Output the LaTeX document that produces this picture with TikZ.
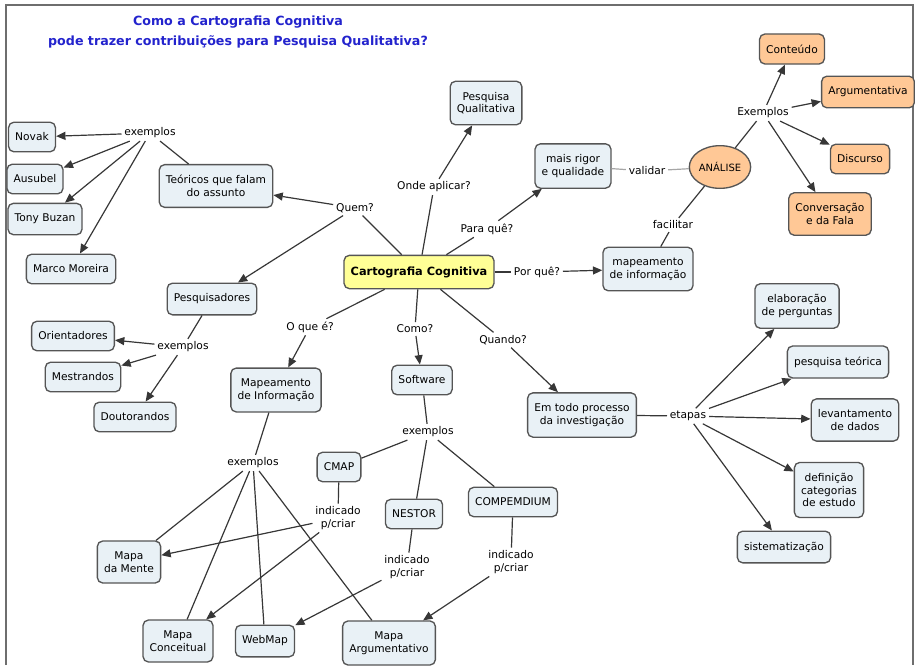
\documentclass[tikz,border=0pt]{standalone}
\usepackage{fontspec}
\setmainfont{DejaVu Sans}
\usetikzlibrary{arrows.meta, shapes.geometric}

\definecolor{boxfill}{RGB}{233,241,246}
\definecolor{boxline}{RGB}{85,85,85}
\definecolor{mainfill}{RGB}{255,255,150}
\definecolor{peach}{RGB}{255,200,150}
\definecolor{titleblue}{RGB}{35,35,205}
\definecolor{linkgray}{RGB}{55,55,55}
\definecolor{framegray}{RGB}{110,110,110}

\begin{document}
\begin{tikzpicture}[x=0.75pt, y=-0.75pt,
    concept/.style={draw=boxline, line width=1pt, rounded corners=4pt, fill=boxfill,
        align=center, inner xsep=5pt, inner ysep=8pt, minimum height=22pt,
        font=\fontsize{8}{9.5}\selectfont},
    orangebox/.style={concept, fill=peach},
    phrase/.style={align=center, inner sep=2pt, font=\fontsize{8}{9.5}\selectfont},
    link/.style={draw=linkgray, line width=0.9pt},
    arr/.style={link, -{Triangle[length=7pt,width=6pt]}}]
    \useasboundingbox (0,0) rectangle (915,665);
    \draw[framegray, line width=1.2pt] (6,665) -- (6,5) -- (913,5) -- (913,665);

    % title
    \node[align=center, text=titleblue, font=\bfseries\fontsize{9.5}{15.5}\selectfont] (title) at (238,32)
        {Como a Cartografia Cognitiva\\pode trazer contribuições para Pesquisa Qualitativa?};

    % central concept
    \node[concept, fill=mainfill, font=\bfseries\fontsize{8.5}{10}\selectfont, minimum width=112pt, minimum height=25pt, inner ysep=4pt] (cc) at (419,272) {Cartografia Cognitiva};

    % who
    \node[phrase] (quem) at (355,208) {Quem?};
    \node[concept] (teoricos) at (216,186) {Teóricos que falam\\do assunto};
    \node[phrase] (exTeo) at (150,133) {exemplos};
    \node[concept] (novak) at (32,137) {Novak};
    \node[concept] (ausubel) at (35,179) {Ausubel};
    \node[concept] (buzan) at (45,219) {Tony Buzan};
    \node[concept] (moreira) at (71,269) {Marco Moreira};
    \node[concept] (pesquisadores) at (212,299) {Pesquisadores};
    \node[phrase] (exPesq) at (183,347) {exemplos};
    \node[concept] (orientadores) at (73,336) {Orientadores};
    \node[concept] (mestrandos) at (83,377) {Mestrandos};
    \node[concept] (doutorandos) at (135,417) {Doutorandos};

    % what
    \node[phrase] (oque) at (310,327) {O que é?};
    \node[concept] (mapInfo) at (276,390) {Mapeamento\\de Informação};
    \node[phrase] (exMap) at (253,463) {exemplos};
    \node[concept] (mente) at (129,562) {Mapa\\da Mente};
    \node[concept] (conceitual) at (178,641) {Mapa\\Conceitual};
    \node[concept] (webmap) at (265,641) {WebMap};
    \node[concept] (argumentativo) at (389,643) {Mapa\\Argumentativo};

    % how
    \node[phrase] (como) at (415,329) {Como?};
    \node[concept] (software) at (422,380) {Software};
    \node[phrase] (exSoft) at (428,432) {exemplos};
    \node[concept] (cmap) at (339,467) {CMAP};
    \node[phrase] (indCmap) at (338,518) {indicado\\p/criar};
    \node[concept] (nestor) at (414,514) {NESTOR};
    \node[phrase] (indNestor) at (407,567) {indicado\\p/criar};
    \node[concept] (compendium) at (513,502) {COMPEMDIUM};
    \node[phrase] (indComp) at (511,562) {indicado\\p/criar};

    % where, what for, why
    \node[phrase] (onde) at (434,187) {Onde aplicar?};
    \node[concept] (pesqQual) at (486,103) {Pesquisa\\Qualitativa};
    \node[phrase] (paraque) at (487,229) {Para quê?};
    \node[concept] (rigor) at (573,166) {mais rigor\\e qualidade};
    \node[phrase] (validar) at (647,171) {validar};
    \node[ellipse, draw=boxline, line width=1pt, fill=peach, minimum width=46pt, minimum height=32pt, inner sep=0pt,
        font=\fontsize{7.5}{9}\selectfont] (analise) at (720,167) {ANÁLISE};
    \node[phrase] (facilitar) at (673,225) {facilitar};
    \node[phrase] (porque) at (537,272) {Por quê?};
    \node[concept] (mapeamento) at (648,269) {mapeamento\\de informação};
    \node[phrase] (exAna) at (763,113) {Exemplos};
    \node[orangebox] (conteudo) at (792,49) {Conteúdo};
    \node[orangebox] (argum) at (868,92) {Argumentativa};
    \node[orangebox] (discurso) at (860,159) {Discurso};
    \node[orangebox] (conversa) at (830,214) {Conversação\\e da Fala};

    % when
    \node[phrase] (quando) at (503,340) {Quando?};
    \node[concept] (processo) at (582,415) {Em todo processo\\da investigação};
    \node[phrase] (etapas) at (688,416) {etapas};
    \node[concept] (perguntas) at (797,306) {elaboração\\de perguntas};
    \node[concept] (teorica) at (838,362) {pesquisa teórica};
    \node[concept] (levantamento) at (855,420) {levantamento\\de dados};
    \node[concept] (definicao) at (829,490) {definição\\categorias\\de estudo};
    \node[concept] (sistema) at (784,547) {sistematização};

    % connections
    \draw[link] (cc) -- (quem);
    \draw[arr] (quem) -- (teoricos);
    \draw[arr] (quem) -- (pesquisadores);
    \draw[link] (teoricos) -- (exTeo);
    \foreach \t in {novak, ausubel, buzan, moreira}
        \draw[arr] (exTeo) -- (\t);
    \draw[link] (pesquisadores) -- (exPesq);
    \foreach \t in {orientadores, mestrandos, doutorandos}
        \draw[arr] (exPesq) -- (\t);

    \draw[link] (cc) -- (oque);
    \draw[arr] (oque) -- (mapInfo);
    \draw[link] (mapInfo) -- (exMap);
    \foreach \t in {mente, conceitual, webmap, argumentativo}
        \draw[link] (exMap) -- (\t);

    \draw[link] (cc) -- (como);
    \draw[arr] (como) -- (software);
    \draw[link] (software) -- (exSoft);
    \foreach \t in {cmap, nestor, compendium}
        \draw[link] (exSoft) -- (\t);
    \draw[link] (cmap) -- (indCmap);
    \draw[arr] (indCmap) -- (mente);
    \draw[arr] (indCmap) -- (conceitual);
    \draw[link] (nestor) -- (indNestor);
    \draw[arr] (indNestor) -- (webmap);
    \draw[link] (compendium) -- (indComp);
    \draw[arr] (indComp) -- (argumentativo);

    \draw[link] (cc) -- (onde);
    \draw[arr] (onde) -- (pesqQual);
    \draw[link] (cc) -- (paraque);
    \draw[arr] (paraque) -- (rigor);
    \draw[link, draw=gray!70] (rigor) -- (validar);
    \draw[link, draw=gray!70] (validar) -- (analise);
    \draw[link] (cc) -- (porque);
    \draw[arr] (porque) -- (mapeamento);
    \draw[link] (mapeamento) -- (facilitar);
    \draw[link] (facilitar) -- (analise);
    \draw[link] (analise) -- (exAna);
    \foreach \t in {conteudo, argum, discurso, conversa}
        \draw[arr] (exAna) -- (\t);

    \draw[link] (cc) -- (quando);
    \draw[arr] (quando) -- (processo);
    \draw[link] (processo) -- (etapas);
    \foreach \t in {perguntas, teorica, levantamento, definicao, sistema}
        \draw[arr] (etapas) -- (\t);
\end{tikzpicture}
\end{document}
